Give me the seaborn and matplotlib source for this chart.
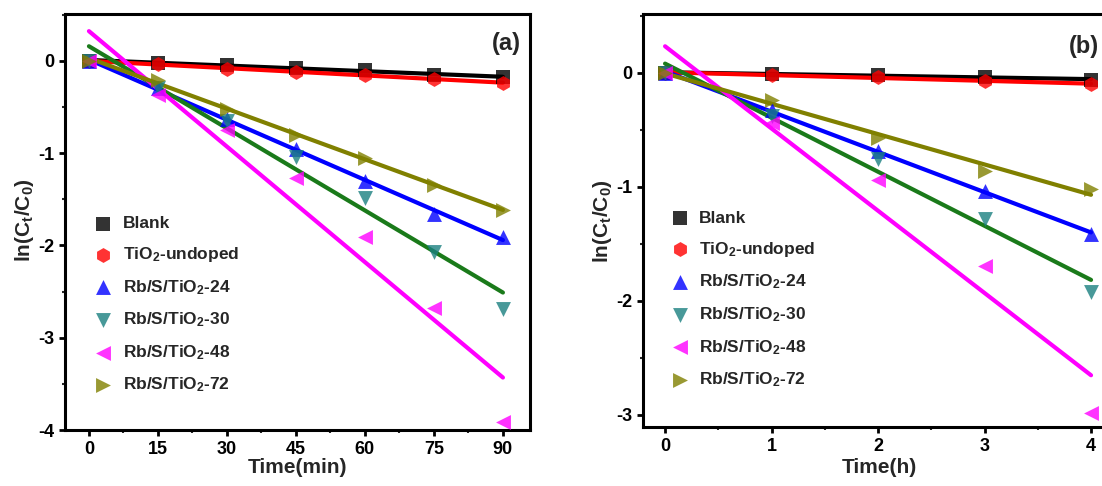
import numpy as np
import matplotlib
matplotlib.use("Agg")
import matplotlib.pyplot as plt
import seaborn as sns
from matplotlib.ticker import MultipleLocator

# data
time_min = [0, 15, 30, 45, 60, 75, 90]
blank_a = [0, -0.02, -0.05, -0.08, -0.10, -0.15, -0.18]
tio2_a = [0, -0.04, -0.09, -0.12, -0.15, -0.20, -0.24]
rb24_a = [0, -0.30, -0.63, -0.96, -1.30, -1.66, -1.91]
rb30_a = [0, -0.30, -0.65, -1.04, -1.49, -2.07, -2.69]
rb48_a = [0, -0.37, -0.75, -1.27, -1.91, -2.68, -3.91]
rb72_a = [0, -0.21, -0.52, -0.81, -1.05, -1.35, -1.62]

time_h = [0, 1, 2, 3, 4]
blank_b = [0, -0.01, -0.02, -0.04, -0.06]
tio2_b = [0, -0.02, -0.04, -0.07, -0.10]
rb24_b = [0, -0.33, -0.69, -1.04, -1.41]
rb30_b = [0, -0.38, -0.76, -1.28, -1.92]
rb48_b = [0, -0.44, -0.94, -1.69, -2.98]
rb72_b = [0, -0.24, -0.57, -0.86, -1.02]

labels = ["Blank", "TiO$_2$-undoped", "Rb/S/TiO$_2$-24", "Rb/S/TiO$_2$-30",
          "Rb/S/TiO$_2$-48", "Rb/S/TiO$_2$-72"]
markers = ["s", "h", "^", "v", "<", ">"]
point_colors = ["black", "#ff0000", "#0000ff", "#1a8080", "#ff00ff", "#808000"]
line_colors = ["black", "#ff0000", "#0000ff", "#1a7a1a", "#ff00ff", "#808000"]

sns.set_style("ticks")
plt.rcParams["font.family"] = ["Liberation Sans", "DejaVu Sans"]
plt.rcParams["font.weight"] = "bold"
plt.rcParams["axes.labelweight"] = "bold"
plt.rcParams["axes.unicode_minus"] = False
plt.rcParams["axes.edgecolor"] = "black"
plt.rcParams["mathtext.fontset"] = "custom"
plt.rcParams["mathtext.rm"] = "Liberation Sans:bold"
plt.rcParams["mathtext.it"] = "Liberation Sans:bold"
plt.rcParams["mathtext.bf"] = "Liberation Sans:bold"

fig = plt.figure(figsize=(11.02, 4.86), dpi=100)
ax1 = fig.add_axes([0.0590, 0.1152, 0.4220, 0.856])
ax2 = fig.add_axes([0.5835, 0.1220, 0.4283, 0.849])


def draw(ax, x, series):
    for y, lab, m, pc, lc in zip(series, labels, markers, point_colors, line_colors):
        sns.regplot(x=np.array(x, float), y=np.array(y, float), ax=ax, ci=None,
                    marker=m, label=lab,
                    scatter_kws={"color": pc, "s": 115, "linewidths": 0, "zorder": 3},
                    line_kws={"color": lc, "lw": 3, "zorder": 2})
    for s in ax.spines.values():
        s.set_linewidth(2.2)
        s.set_visible(True)
        s.set_color("black")
    ax.tick_params(which="major", direction="out", length=4, width=2, labelsize=13,
                   top=False, right=False, pad=4, colors="black")
    ax.tick_params(which="minor", direction="out", length=2.5, width=1.5,
                   top=False, right=False)
    ax.legend(loc="upper left", frameon=False, fontsize=12.5, handlelength=1.0,
              handletextpad=0.6, labelspacing=0.8, borderaxespad=0)


draw(ax1, time_min, [blank_a, tio2_a, rb24_a, rb30_a, rb48_a, rb72_a])
ax1.set_xlim(-5.2, 95.9)
ax1.set_ylim(-4, 0.506)
ax1.xaxis.set_major_locator(MultipleLocator(15))
ax1.xaxis.set_minor_locator(MultipleLocator(7.5))
ax1.yaxis.set_major_locator(MultipleLocator(1))
ax1.yaxis.set_minor_locator(MultipleLocator(0.5))
ax1.set_xlabel("Time(min)", fontsize=15)
ax1.set_ylabel("ln(C$_t$/C$_0$)", fontsize=15)
ax1.xaxis.set_label_coords(0.5, -0.068)
ax1.yaxis.set_label_coords(-0.062, 0.505)
ax1.legend_.set_bbox_to_anchor((0.049, 0.531), transform=ax1.transAxes)
ax1.text(0.948, 0.928, "(a)", transform=ax1.transAxes, fontsize=17,
         fontweight="bold", ha="center", va="center")

draw(ax2, time_h, [blank_b, tio2_b, rb24_b, rb30_b, rb48_b, rb72_b])
ax2.set_xlim(-0.207, 4.225)
ax2.set_ylim(-3.103, 0.514)
ax2.xaxis.set_major_locator(MultipleLocator(1))
ax2.xaxis.set_minor_locator(MultipleLocator(0.5))
ax2.yaxis.set_major_locator(MultipleLocator(1))
ax2.yaxis.set_minor_locator(MultipleLocator(0.5))
ax2.set_xlabel("Time(h)", fontsize=15)
ax2.set_ylabel("ln(C$_t$/C$_0$)", fontsize=15)
ax2.xaxis.set_label_coords(0.5, -0.077)
ax2.yaxis.set_label_coords(-0.061, 0.498)
ax2.legend_.set_bbox_to_anchor((0.0445, 0.540), transform=ax2.transAxes)
ax2.text(0.935, 0.922, "(b)", transform=ax2.transAxes, fontsize=17,
         fontweight="bold", ha="center", va="center")

for ax in (ax1, ax2):
    plt.setp(ax.get_xticklabels() + ax.get_yticklabels(), fontweight="bold")

fig.savefig("out.png", dpi=100)
